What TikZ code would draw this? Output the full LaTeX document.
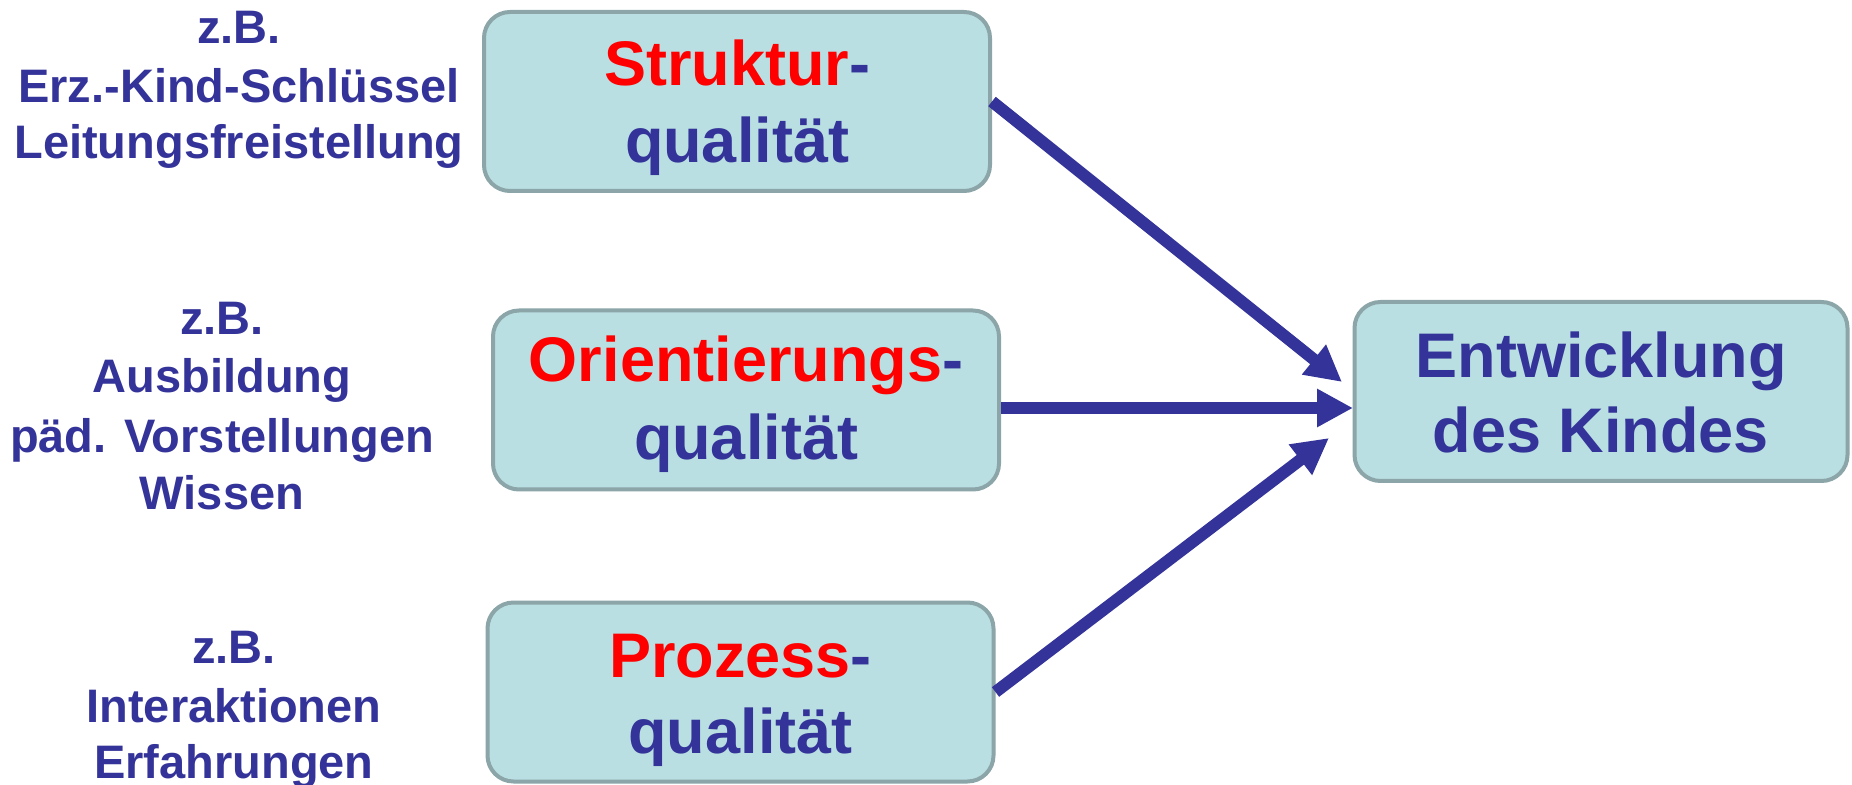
\documentclass[tikz,border=0pt]{standalone}
\usepackage{fontspec}
\setmainfont{Liberation Sans}
\usetikzlibrary{arrows.meta,calc}
\definecolor{navy}{HTML}{333399}
\definecolor{boxfill}{HTML}{B9DFE2}
\definecolor{boxline}{HTML}{8BA5A8}
\begin{document}
\begin{tikzpicture}[x=0.5pt,y=-0.5pt,
  qbox/.style={draw=boxline, line width=2pt, fill=boxfill, rounded corners=13pt,
    minimum width=253pt, minimum height=89.5pt, inner sep=0pt},
  big/.style={anchor=base, inner sep=0pt, font=\fontsize{31.5pt}{38pt}\selectfont\bfseries, text=navy},
  small/.style={anchor=base, inner sep=0pt, font=\fontsize{23.5pt}{28pt}\selectfont\bfseries, text=navy},
  arr/.style={draw=navy, line width=6pt, -{Triangle[length=18pt,width=18pt]}}]
\useasboundingbox (0,0) rectangle (1852,785);

% boxes
\node[qbox] (b1) at (737,101.5) {};
\node[qbox] (b2) at (746,400) {};
\node[qbox] (b3) at (740.5,692) {};
\node[qbox, minimum width=246.5pt] (b4) at (1601,391.5) {};

% box texts
\node[big] (b1a) at ($(b1.center)+(0,-15.5)$) {\textcolor{red}{Struktur}-};
\node[big] (b1b) at ($(b1.center)+(0,61.5)$) {qualität};
\node[big] (b2a) at ($(b2.center)+(0,-18)$) {\textcolor{red}{Orientierungs}-};
\node[big] (b2b) at ($(b2.center)+(0,60)$) {qualität};
\node[big] (b3a) at ($(b3.center)+(0,-14.5)$) {\textcolor{red}{Prozess}-};
\node[big] (b3b) at ($(b3.center)+(0,61)$) {qualität};
\node[big] (b4a) at ($(b4.center)+(0,-13.5)$) {Entwicklung};
\node[big] (b4b) at ($(b4.center)+(0,61.5)$) {des Kindes};

% left examples
\node[small] (l1a) at (239,44) {z.B.};
\node[small] (l1b) at (239,103) {Erz.-Kind-Schlüssel};
\node[small] (l1c) at (239,159) {Leitungsfreistellung};

\node[small] (l2a) at (222,335) {z.B.};
\node[small] (l2b) at (222,393) {Ausbildung};
\node[small] (l2c) at (222,453) {päd. Vorstellungen};
\node[small] (l2d) at (222,510) {Wissen};

\node[small] (l3a) at (234,663) {z.B.};
\node[small] (l3b) at (234,722) {Interaktionen};
\node[small] (l3c) at (234,778) {Erfahrungen};

% arrows
\coordinate (t1) at (1342,382);
\coordinate (t2) at (1353,408);
\coordinate (t3) at (1329,438);
\draw[arr] (b1.east) -- (t1);
\draw[arr] (b2.east |- t2) -- (t2);
\draw[arr] (b3.east) -- (t3);
\end{tikzpicture}
\end{document}
